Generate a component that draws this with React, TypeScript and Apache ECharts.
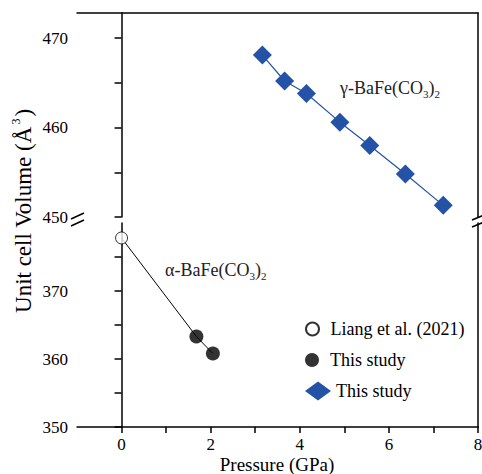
import React, { useEffect, useRef } from 'react';
import * as echarts from 'echarts';

// ---- data ----
const alphaLiang: number[][] = [[0, 377.8]];
const alphaStudy: number[][] = [[1.68, 363.3], [2.05, 360.8]];
const alphaFit: number[][] = [[0, 377.8], [1.68, 363.3], [2.05, 360.8]];
const gammaStudy: number[][] = [
  [3.16, 468.1], [3.66, 465.2], [4.15, 463.8], [4.9, 460.6],
  [5.57, 458.0], [6.37, 454.8], [7.22, 451.3],
];
const xTicks = [0, 1, 2, 3, 4, 5, 6, 7, 8];
const xLabels = [0, 2, 4, 6, 8];
const upperTicks = [450, 455, 460, 465, 470];
const upperLabels = [450, 460, 470];
const lowerTicks = [350, 355, 360, 365, 370, 375];
const lowerLabels = [350, 360, 370];
const legendNames = ['Liang et al. (2021)', 'This study', 'This study '];
const xTitle = 'Pressure (GPa)';

const FONT = 'Liberation Serif, Times New Roman, serif';
const BLUE = '#2452A6';

export default function App() {
  const ref = useRef<HTMLDivElement>(null);
  useEffect(() => {
    if (!ref.current) return;
    const chart = echarts.init(ref.current, undefined, { renderer: 'svg' });
    const axisLine = { show: true, lineStyle: { color: '#000', width: 1.5 } };
    const labelStyle = { color: '#000', fontFamily: FONT, fontSize: 17 };
    const legendText = { color: '#000', fontFamily: FONT, fontSize: 18, lineHeight: 22 };
    const option: any = {
      animation: false,
      backgroundColor: '#fff',
      textStyle: { fontFamily: FONT },
      grid: [
        { left: 77, right: 4, top: 223, height: 204, outerBoundsMode: 'none' },
        { left: 77, right: 4, top: 13, height: 204, outerBoundsMode: 'none' },
      ],
      xAxis: [
        {
          type: 'value', gridIndex: 0, position: 'bottom', min: -1, max: 8,
          axisLine,
          splitLine: { show: false },
          axisTick: { show: true, inside: false, length: 6, customValues: xTicks, lineStyle: { color: '#000', width: 1.5 } },
          axisLabel: { ...labelStyle, margin: 9, customValues: xLabels },
        },
        {
          type: 'value', gridIndex: 1, position: 'top', min: -1, max: 8,
          axisLine, axisTick: { show: false }, axisLabel: { show: false }, splitLine: { show: false },
        },
      ],
      yAxis: [
        {
          type: 'value', gridIndex: 0, position: 'left', min: 350, max: 380,
          axisLine, splitLine: { show: false },
          axisTick: { show: true, inside: false, length: 7, customValues: lowerTicks, lineStyle: { color: '#000', width: 1.5 } },
          axisLabel: { ...labelStyle, margin: 9, customValues: lowerLabels },
        },
        {
          type: 'value', gridIndex: 1, position: 'left', min: 450, max: 472.8,
          axisLine, splitLine: { show: false },
          axisTick: { show: true, inside: false, length: 7, customValues: upperTicks, lineStyle: { color: '#000', width: 1.5 } },
          axisLabel: { ...labelStyle, margin: 9, customValues: upperLabels },
        },
        {
          type: 'value', gridIndex: 0, position: 'right', min: 350, max: 380,
          axisLine, axisTick: { show: false }, axisLabel: { show: false }, splitLine: { show: false },
        },
        {
          type: 'value', gridIndex: 1, position: 'right', min: 450, max: 472.8,
          axisLine, axisTick: { show: false }, axisLabel: { show: false }, splitLine: { show: false },
        },
      ],
      legend: [
        {
          data: [legendNames[0]], orient: 'vertical', left: 305, top: 318, padding: 0,
          itemWidth: 26, itemHeight: 13, selectedMode: false, textStyle: legendText,
        },
        {
          data: [legendNames[1]], orient: 'vertical', left: 305, top: 349, padding: 0,
          itemWidth: 26, itemHeight: 14, selectedMode: false, textStyle: legendText,
        },
        {
          data: [{ name: legendNames[2], icon: 'diamond' }], orient: 'vertical', left: 305, top: 380, padding: 0,
          itemWidth: 26, itemHeight: 19, selectedMode: false, textStyle: legendText,
        },
      ],
      series: [
        {
          name: 'alpha-fit', type: 'line', xAxisIndex: 0, yAxisIndex: 0, data: alphaFit,
          showSymbol: false, symbol: 'none', lineStyle: { color: '#000', width: 1 }, z: 1, silent: true,
        },
        {
          name: legendNames[0], type: 'scatter', xAxisIndex: 0, yAxisIndex: 0, data: alphaLiang,
          symbol: 'circle', symbolSize: 12,
          itemStyle: { color: '#fff', borderColor: '#000', borderWidth: 1 }, z: 3,
        },
        {
          name: legendNames[1], type: 'scatter', xAxisIndex: 0, yAxisIndex: 0, data: alphaStudy,
          symbol: 'circle', symbolSize: 14, itemStyle: { color: '#000' }, z: 3,
        },
        {
          name: legendNames[2], type: 'line', xAxisIndex: 1, yAxisIndex: 1, data: gammaStudy,
          symbol: 'diamond', symbolSize: 19, showAllSymbol: true,
          itemStyle: { color: BLUE }, lineStyle: { color: BLUE, width: 1.2 }, z: 3,
        },
      ],
      graphic: [
        {
          type: 'text', x: 277, y: 464,
          style: {
            text: xTitle, align: 'center', verticalAlign: 'middle',
            fontFamily: FONT, fontSize: 19, fill: '#000',
          },
        },
        {
          type: 'text', x: 23, y: 211, rotation: Math.PI / 2,
          style: {
            text: '{a|Unit cell Volume (Å}{s|3}{a|)}',
            align: 'center', verticalAlign: 'middle',
            rich: {
              a: { fontFamily: FONT, fontSize: 23, fill: '#000', lineHeight: 26 },
              s: { fontFamily: FONT, fontSize: 12, fill: '#000', verticalAlign: 'top', lineHeight: 26, padding: [0, 2, 0, 2] },
            },
          },
        },
        {
          type: 'text', x: 340, y: 88,
          style: {
            text: '{a|γ-BaFe(CO}{s|3}{a|)}{s|2}',
            align: 'left', verticalAlign: 'middle',
            rich: {
              a: { fontFamily: FONT, fontSize: 18, fill: '#222', lineHeight: 22 },
              s: { fontFamily: FONT, fontSize: 11, fill: '#222', verticalAlign: 'bottom', lineHeight: 22 },
            },
          },
        },
        {
          type: 'text', x: 165, y: 270,
          style: {
            text: '{a|α-BaFe(CO}{s|3}{a|)}{s|2}',
            align: 'left', verticalAlign: 'middle',
            rich: {
              a: { fontFamily: FONT, fontSize: 18, fill: '#222', lineHeight: 22 },
              s: { fontFamily: FONT, fontSize: 11, fill: '#222', verticalAlign: 'bottom', lineHeight: 22 },
            },
          },
        },
        { type: 'line', shape: { x1: 71, y1: 219, x2: 84, y2: 213 }, style: { stroke: '#000', lineWidth: 1.5 } },
        { type: 'line', shape: { x1: 71, y1: 226, x2: 84, y2: 220 }, style: { stroke: '#000', lineWidth: 1.5 } },
        { type: 'line', shape: { x1: 472, y1: 220, x2: 484, y2: 215 }, style: { stroke: '#000', lineWidth: 1.5 } },
        { type: 'line', shape: { x1: 472, y1: 227, x2: 484, y2: 222 }, style: { stroke: '#000', lineWidth: 1.5 } },
      ],
    };
    chart.setOption(option);
    return () => chart.dispose();
  }, []);
  return (
    <div
      ref={ref}
      style={{ position: 'fixed', left: 0, top: 0, width: 482, height: 474, background: '#fff' }}
    />
  );
}
